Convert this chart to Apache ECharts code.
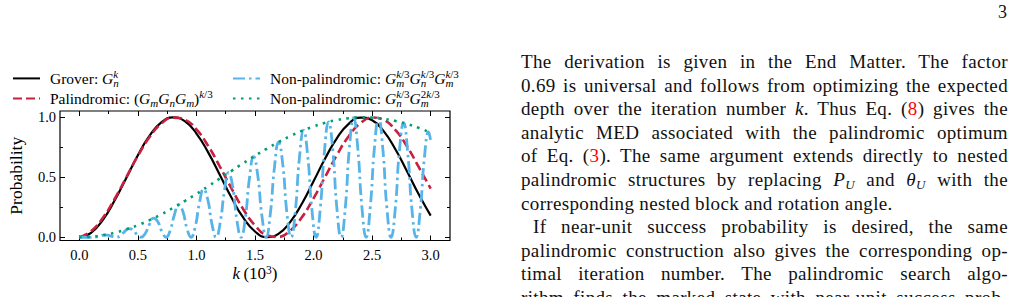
<!DOCTYPE html>
<html>
<head>
<meta charset="UTF-8">
<title>Probability vs k</title>
<script src="https://cdn.jsdelivr.net/npm/echarts@6/dist/echarts.min.js"></script>
<style>
body { margin: 0; background: #fff; }
#page { position: relative; width: 1016px; height: 297px; overflow: hidden; background: #fff; }
#main { position: absolute; left: 0; top: 0; width: 505px; height: 297px; }
.ln { position: absolute; left: 521px; width: 487px; height: 23.6px; line-height: 23.6px;
      font-family: 'Liberation Serif', 'Times New Roman', serif; font-size: 19px; letter-spacing: 0.35px; color: #111;
      text-align: justify; text-align-last: justify; }
.ln.last { text-align: left; text-align-last: left; }
.ln sub { font-size: 13px; line-height: 0; vertical-align: -3px; }
.r { color: #f00; }
.pn { position: absolute; left: 998px; top: 2px; font-family: 'Liberation Serif', 'Times New Roman', serif; font-size: 18px; color: #111; }
</style>
</head>
<body>
<div id="page">
<div id="main"></div>
<div class="pn">3</div>
<div class="ln" style="top:50.0px">The derivation is given in the End Matter. The factor</div>
<div class="ln" style="top:73.6px">0.69 is universal and follows from optimizing the expected</div>
<div class="ln" style="top:97.2px">depth over the iteration number <i>k</i>. Thus Eq. (<span class="r">8</span>) gives the</div>
<div class="ln" style="top:120.8px">analytic MED associated with the palindromic optimum</div>
<div class="ln" style="top:144.4px">of Eq. (<span class="r">3</span>). The same argument extends directly to nested</div>
<div class="ln" style="top:168.0px">palindromic structures by replacing <i>P</i><sub><i>U</i></sub> and <i>θ</i><sub><i>U</i></sub> with the</div>
<div class="ln last" style="top:191.6px">corresponding nested block and rotation angle.</div>
<div class="ln" style="top:215.2px;left:533px;width:475px">If near-unit success probability is desired, the same</div>
<div class="ln" style="top:238.8px">palindromic construction also gives the corresponding op-</div>
<div class="ln" style="top:262.4px">timal iteration number. The palindromic search algo-</div>
<div class="ln" style="top:286.0px">rithm finds the marked state with near-unit success prob-</div>
</div>
<script type="text/javascript">
// k in units of 10^3
var kGrid = [0.0, 0.1, 0.2, 0.3, 0.4, 0.5, 0.6, 0.7, 0.8, 0.9, 1.0, 1.1, 1.2, 1.3, 1.4, 1.5,
             1.6, 1.7, 1.8, 1.9, 2.0, 2.1, 2.2, 2.3, 2.4, 2.5, 2.6, 2.7, 2.8, 2.9, 3.0];
var pGrover = [0.000, 0.037, 0.144, 0.304, 0.493, 0.684, 0.847, 0.958, 1.000, 0.968, 0.865,
               0.708, 0.520, 0.329, 0.163, 0.048, 0.001, 0.028, 0.126, 0.280, 0.467,
               0.659, 0.827, 0.946, 0.998, 0.976, 0.883, 0.732, 0.546, 0.354, 0.180];
var pPalindromic = [0.002, 0.051, 0.161, 0.317, 0.498, 0.679, 0.836, 0.947, 0.998, 0.981, 0.899,
                    0.762, 0.590, 0.406, 0.234, 0.099, 0.018, 0.003, 0.055, 0.167, 0.325,
                    0.506, 0.687, 0.843, 0.951, 0.999, 0.979, 0.893, 0.755, 0.582, 0.405];
var pNonPal2 = [0.000, 0.004, 0.017, 0.037, 0.065, 0.101, 0.143, 0.191, 0.244, 0.302, 0.362,
                0.425, 0.490, 0.554, 0.618, 0.680, 0.738, 0.793, 0.843, 0.887, 0.924,
                0.955, 0.978, 0.993, 1.000, 0.998, 0.988, 0.970, 0.944, 0.912, 0.871];
// the fast oscillating one has its own sampling
var kNonPal1 = [0.000, 0.029, 0.064,
  0.100, 0.136, 0.171, 0.207, 0.242, 0.278,
  0.314, 0.349, 0.385, 0.420, 0.456, 0.491,
  0.527, 0.563, 0.598, 0.634, 0.669, 0.705,
  0.741, 0.776, 0.812, 0.847, 0.883, 0.918,
  0.954, 0.990, 1.025, 1.061, 1.096, 1.132,
  1.168, 1.203, 1.239, 1.274, 1.310, 1.345,
  1.381, 1.417, 1.452, 1.488, 1.523, 1.559,
  1.595, 1.630, 1.666, 1.701, 1.737, 1.772,
  1.808, 1.844, 1.879, 1.915, 1.950, 1.986,
  2.022, 2.057, 2.093, 2.128, 2.164, 2.199,
  2.235, 2.271, 2.306, 2.342, 2.377, 2.413,
  2.449, 2.484, 2.520, 2.555, 2.591, 2.626,
  2.662, 2.698, 2.733, 2.769, 2.804, 2.840,
  2.876, 2.911, 2.947, 2.982, 3.000];
var pNonPal1 = [0.000, 0.000, 0.000,
  0.000, 0.002, 0.009, 0.018, 0.018, 0.008,
  0.000, 0.013, 0.045, 0.072, 0.063, 0.024,
  0.000, 0.032, 0.107, 0.159, 0.132, 0.048,
  0.000, 0.058, 0.188, 0.271, 0.219, 0.078,
  0.000, 0.089, 0.284, 0.401, 0.318, 0.112,
  0.000, 0.123, 0.386, 0.538, 0.420, 0.146,
  0.000, 0.157, 0.488, 0.672, 0.520, 0.179,
  0.000, 0.189, 0.581, 0.794, 0.609, 0.207,
  0.000, 0.216, 0.658, 0.892, 0.680, 0.230,
  0.000, 0.236, 0.715, 0.962, 0.728, 0.244,
  0.000, 0.247, 0.745, 0.997, 0.749, 0.250,
  0.000, 0.250, 0.748, 0.994, 0.742, 0.246,
  0.000, 0.243, 0.722, 0.953, 0.707, 0.233,
  0.000, 0.227, 0.670, 0.879, 0.800];

var xMajor = [0, 0.5, 1.0, 1.5, 2.0, 2.5, 3.0];
var xMinor = [0.25, 0.75, 1.25, 1.75, 2.25, 2.75];
var yMajor = [0, 0.5, 1.0];
var yMinor = [0.25, 0.75];

var X_MIN = -0.165, X_MAX = 3.165, Y_MIN = -0.027, Y_MAX = 1.053;
var SERIF = 'Liberation Serif';

function pairs(xs, ys) {
    return xs.map(function (x, i) { return [x, ys[i]]; });
}

function tickAxis(type, pos, ticks, len) {
    return {
        type: 'value', position: pos,
        min: type === 'x' ? X_MIN : Y_MIN, max: type === 'x' ? X_MAX : Y_MAX,
        axisLine: { show: false, onZero: false }, splitLine: { show: false },
        axisTick: { show: true, inside: true, length: len, customValues: ticks,
                    lineStyle: { color: '#000', width: 1 } },
        axisLabel: { show: false }
    };
}

var tickFont = { show: true, color: '#000', fontFamily: SERIF, fontSize: 14.5,
                 formatter: function (v) { return v.toFixed(1); } };

var xMain = tickAxis('x', 'bottom', xMajor, 5);
xMain.axisLabel = Object.assign({}, tickFont, { customValues: xMajor, margin: 7 });
xMain.name = '{i|k}{n|\u2009(10}{s|3}{n|)}';
xMain.nameLocation = 'middle';
xMain.nameGap = 23;
xMain.nameTextStyle = { color: '#000', fontFamily: SERIF, fontSize: 17, lineHeight: 20,
    rich: {
        i: { fontFamily: SERIF, fontSize: 17, fontStyle: 'italic', lineHeight: 20 },
        n: { fontFamily: SERIF, fontSize: 17, lineHeight: 20 },
        s: { fontFamily: SERIF, fontSize: 11.5, verticalAlign: 'top', lineHeight: 12 }
    } };

var yMain = tickAxis('y', 'left', yMajor, 5);
yMain.axisLabel = Object.assign({}, tickFont, { customValues: yMajor, margin: 4 });
yMain.name = 'Probability';
yMain.nameLocation = 'middle';
yMain.nameGap = 35;
yMain.nameTextStyle = { color: '#000', fontFamily: SERIF, fontSize: 17.5 };

var legendText = {
    Grover: 'Grover: {it|G}{sb0|n}{sp|k}',
    Palindromic: 'Palindromic: ({it|G}{sb|m}{it|G}{sb|n}{it|G}{sb|m}){sp|k}{spn|/3}',
    NonPal1: 'Non-palindromic: {it|G}{sb0|m}{sp|k}{spn|/3}{it|G}{sb0|n}{sp|k}{spn|/3}{it|G}{sb0|m}{sp|k}{spn|/3}',
    NonPal2: 'Non-palindromic: {it|G}{sb0|n}{sp|k}{spn|/3}{it|G}{sb0|m}{spn|2}{sp|k}{spn|/3}'
};

var legendStyle = {
    color: '#000', fontFamily: SERIF, fontSize: 15.5, lineHeight: 20,
    rich: {
        g: { width: 5 },
        it: { fontFamily: SERIF, fontSize: 15.5, fontStyle: 'italic', lineHeight: 20 },
        sb: { fontFamily: SERIF, fontSize: 11, fontStyle: 'italic', verticalAlign: 'bottom', lineHeight: 12 },
        sb0: { fontFamily: SERIF, fontSize: 11, fontStyle: 'italic', verticalAlign: 'bottom', lineHeight: 12, width: 0 },
        sp: { fontFamily: SERIF, fontSize: 11, fontStyle: 'italic', verticalAlign: 'top', lineHeight: 11 },
        spn: { fontFamily: SERIF, fontSize: 11, verticalAlign: 'top', lineHeight: 11 }
    }
};

function legendAt(left, names) {
    return {
        data: names, left: left, top: 63.4, orient: 'vertical',
        itemWidth: 27, itemHeight: 12, itemGap: 0, selectedMode: false,
        itemStyle: { opacity: 0, borderWidth: 0 },
        formatter: function (name) { return '{g| }' + legendText[name]; },
        textStyle: legendStyle
    };
}

var chart = echarts.init(document.getElementById('main'), null, { renderer: 'svg' });
chart.setOption({
    animation: false,
    backgroundColor: '#fff',
    grid: { left: 60, top: 111, width: 390, height: 129.5, show: true,
            borderColor: '#000', borderWidth: 1.2, backgroundColor: 'transparent',
            containLabel: false, outerBoundsMode: 'none' },
    legend: [legendAt(7, ['Grover', 'Palindromic']), legendAt(227, ['NonPal1', 'NonPal2'])],
    xAxis: [xMain, tickAxis('x', 'bottom', xMinor, 3),
            tickAxis('x', 'top', xMajor, 5), tickAxis('x', 'top', xMinor, 3)],
    yAxis: [yMain, tickAxis('y', 'left', yMinor, 3),
            tickAxis('y', 'right', yMajor, 5), tickAxis('y', 'right', yMinor, 3)],
    series: [
        { name: 'Grover', type: 'line', data: pairs(kGrid, pGrover), smooth: true,
          symbol: 'none', color: '#000', lineStyle: { color: '#000', width: 2.2 } },
        { name: 'Palindromic', type: 'line', data: pairs(kGrid, pPalindromic), smooth: true,
          symbol: 'none', color: '#c8203f',
          lineStyle: { color: '#c8203f', width: 2.6, type: [9, 4] } },
        { name: 'NonPal1', type: 'line', data: pairs(kNonPal1, pNonPal1), smooth: true,
          symbol: 'none', color: '#56b4e9',
          lineStyle: { color: '#56b4e9', width: 2.8, type: [12, 4, 2.5, 4] } },
        { name: 'NonPal2', type: 'line', data: pairs(kGrid, pNonPal2), smooth: true,
          symbol: 'none', color: '#009e73',
          lineStyle: { color: '#009e73', width: 2.6, type: [2.5, 5.5] } }
    ]
});
</script>
</body>
</html>
